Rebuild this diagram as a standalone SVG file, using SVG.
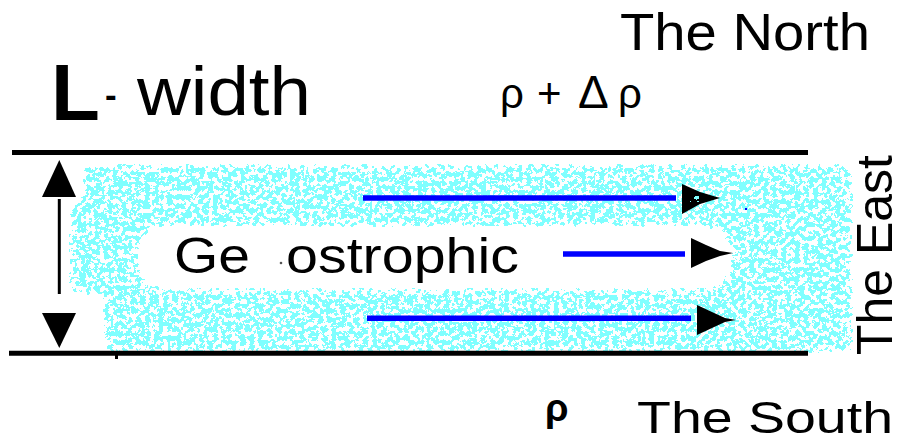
<svg xmlns="http://www.w3.org/2000/svg" width="904" height="442" viewBox="0 0 904 442">
  <style>
    text { font-family: "Liberation Sans", Arial, sans-serif; fill: #000; }
    .rule { stroke: #000; stroke-width: 5; fill: none; }
    .flow { stroke: #0000FF; stroke-width: 5.5; fill: none; }
    .head { fill: #000; }
  </style>
  <defs>
    <filter id="speck" filterUnits="userSpaceOnUse" x="50" y="150" width="820" height="220" color-interpolation-filters="sRGB">
      <feTurbulence type="fractalNoise" baseFrequency="0.22" numOctaves="3" seed="11" result="t"/>
      <feColorMatrix in="t" type="matrix" values="0 0 0 0 0.5  0 0 0 0 1  0 0 0 0 1  2.2 0 0 0 -0.55" result="n"/>
      <feGaussianBlur in="SourceAlpha" stdDeviation="4" result="m"/>
      <feComposite in="n" in2="m" operator="in" result="p"/>
      <feComponentTransfer in="p">
        <feFuncA type="discrete" tableValues="0 1"/>
      </feComponentTransfer>
    </filter>
  </defs>
  <rect width="904" height="442" fill="#fff"/>

  <g id="water">
    <path filter="url(#speck)" fill="#000" fill-rule="evenodd"
      d="M92 164 L846 164 Q853 164 853 172 L853 346 Q853 353 846 353 L103 353 L103 296 L84 296 Q69 296 69 282 L69 212 Q69 199 82 199 L82 176 Q82 164 92 164 Z
         M168 227 L700 227 Q730 227 730 257 Q730 288 700 288 L168 288 Q138 288 138 257 Q138 227 168 227 Z"/>
  </g>

  <g id="north-boundary">
    <line class="rule" x1="12" y1="152.5" x2="808" y2="152.5"/>
  </g>
  <g id="south-boundary">
    <line class="rule" x1="9" y1="353.3" x2="808" y2="353.3"/>
    <rect x="115" y="355" width="3" height="4" fill="#000"/>
  </g>

  <g id="width-arrow">
    <line x1="59.3" y1="199" x2="59.3" y2="294" stroke="#000" stroke-width="3"/>
    <polygon class="head" points="59.3,160 76,197 42,197"/>
    <polygon class="head" points="42,313 76,313 59.3,348"/>
  </g>

  <g id="connectors">
    <g id="flow-top">
      <line class="flow" x1="363" y1="198" x2="676" y2="198"/>
      <polygon class="head" points="682,184 700,192 720,198 700,204 682,214"/>
      <polygon fill="#000" filter="url(#speck)" points="688,192 700,195 712,198 700,202 688,206"/>
      <rect x="745" y="208" width="2" height="2" fill="#0000FF"/>
    </g>
    <g id="flow-middle">
      <line class="flow" x1="563" y1="254" x2="685" y2="254"/>
      <polygon class="head" points="691,238 706,245 720,251 733,253 720,256 706,261 691,268"/>
    </g>
    <g id="flow-bottom">
      <line class="flow" x1="367" y1="318.3" x2="691" y2="318.3"/>
      <polygon class="head" points="697,305 712,312 725,318 736,320 725,322 712,328 697,335"/>
    </g>
  </g>

  <g id="label-width">
    <text x="51" y="120" font-size="80" font-weight="bold">L</text>
    <text x="105" y="107" font-size="35" font-weight="bold">-</text>
    <text x="137" y="115" font-size="68" textLength="174" lengthAdjust="spacingAndGlyphs">width</text>
  </g>

  <g id="label-density-north">
    <text y="108" font-size="42"><tspan x="500">ρ</tspan><tspan x="537">+</tspan><tspan x="578" font-size="46">Δ</tspan><tspan x="618">ρ</tspan></text>
  </g>

  <g id="label-north">
    <text x="620" y="50" font-size="52" textLength="250" lengthAdjust="spacingAndGlyphs">The North</text>
  </g>

  <g id="label-geostrophic">
    <text x="174" y="273" font-size="50" textLength="76" lengthAdjust="spacingAndGlyphs">Ge</text>
    <circle cx="281" cy="263" r="1.3" fill="#555"/>
    <text x="286" y="273" font-size="50" textLength="233" lengthAdjust="spacingAndGlyphs">ostrophic</text>
  </g>

  <g id="label-south">
    <text x="545" y="421" font-size="38" font-weight="bold">ρ</text>
    <text x="637" y="433" font-size="45" textLength="256" lengthAdjust="spacingAndGlyphs">The South</text>
  </g>

  <g id="label-east">
    <text transform="translate(892,355) rotate(-90)" font-size="50" textLength="200" lengthAdjust="spacingAndGlyphs">The East</text>
  </g>
</svg>
